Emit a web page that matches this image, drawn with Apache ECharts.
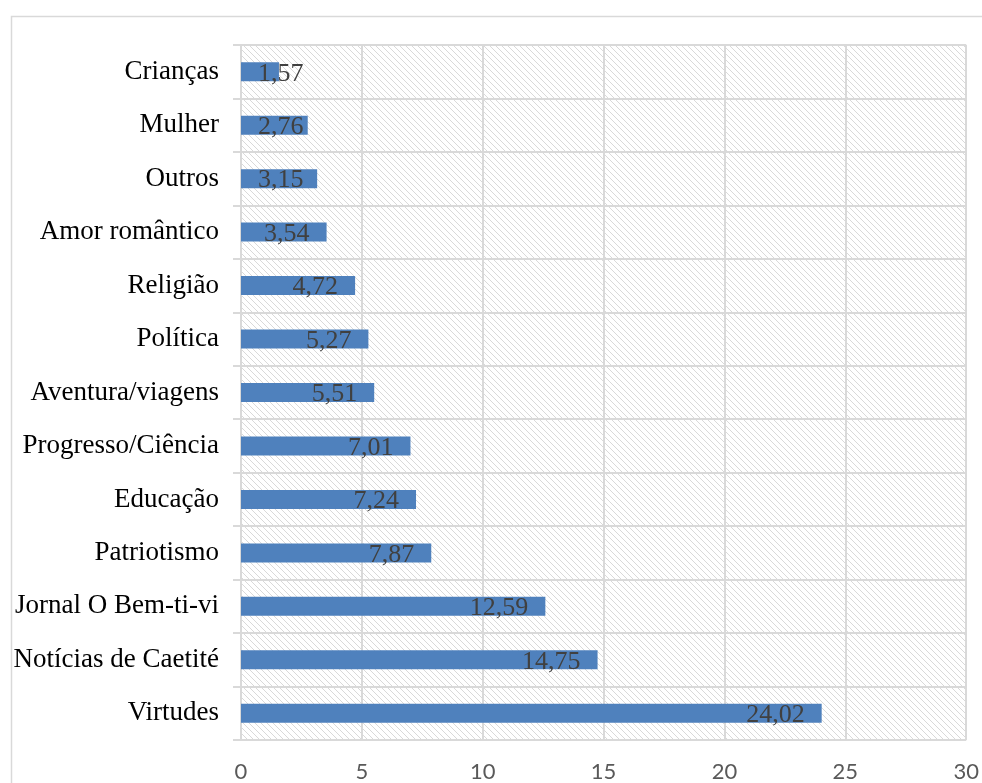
<!DOCTYPE html>
<html>
<head>
<meta charset="utf-8">
<script src="https://cdn.jsdelivr.net/npm/echarts@6/dist/echarts.min.js"></script>
<style>html,body{margin:0;padding:0;background:#fff;}#c{width:982px;height:783px;}</style>
</head>
<body>
<div id="c"></div>
<script>
// Data (top to bottom as shown)
const categories = ['Crianças','Mulher','Outros','Amor romântico','Religião','Política','Aventura/viagens','Progresso/Ciência','Educação','Patriotismo','Jornal O Bem-ti-vi','Notícias de Caetité','Virtudes'];
const values = [1.57,2.76,3.15,3.54,4.72,5.27,5.51,7.01,7.24,7.87,12.59,14.75,24.02];
const xTicks = [0,5,10,15,20,25,30];

// hatch pattern
const pc = document.createElement('canvas');
pc.width = 6; pc.height = 6;
const g = pc.getContext('2d');
g.fillStyle = '#ffffff'; g.fillRect(0,0,6,6);
g.strokeStyle = '#d9d9d9'; g.lineWidth = 1;
g.beginPath();
g.moveTo(0,0); g.lineTo(6,6);
g.moveTo(-3,3); g.lineTo(3,9);
g.moveTo(3,-3); g.lineTo(9,3);
g.stroke();

const cats = categories.slice().reverse();
const vals = values.slice().reverse();

const chart = echarts.init(document.getElementById('c'), null, {renderer:'canvas'});
chart.setOption({
  animation: false,
  graphic: [{
    type: 'rect', left: 9, top: 14, shape: {x:0, y:0, width: 1000, height: 1000},
    style: {fill: 'none', stroke: '#d9d9d9', lineWidth: 1.5}, z: -10
  }],
  grid: {
    left: 241, right: 13, top: 45, bottom: 42,
    show: true, borderWidth: 0,
    backgroundColor: {image: pc, repeat: 'repeat'}
  },
  xAxis: {
    type: 'value', min: xTicks[0], max: xTicks[xTicks.length-1], interval: 5,
    axisLine: {show: false}, axisTick: {show: false},
    splitLine: {show: true, lineStyle: {color: '#d9d9d9', width: 2}},
    axisLabel: {color: '#595959', fontFamily: 'Lato, "Open Sans", sans-serif', fontSize: 22, margin: 21}
  },
  yAxis: {
    type: 'category', data: cats,
    axisLine: {show: true, lineStyle: {color: '#d9d9d9', width: 2}},
    axisTick: {show: true, length: 8, lineStyle: {color: '#d9d9d9', width: 2}},
    splitLine: {show: true, lineStyle: {color: '#d9d9d9', width: 2}},
    axisLabel: {color: '#000', fontFamily: '"Liberation Serif", "Times New Roman", serif', fontSize: 27, margin: 22, padding: [5,0,0,0]}
  },
  series: [{
    type: 'bar',
    data: vals.map(v => v < 3.2 ? {value: v, label: {position: 'insideLeft', distance: 17}} : v),
    barWidth: 19,
    itemStyle: {color: '#4f81bd'},
    label: {
      show: true, position: 'insideRight', distance: 17, offset: [0, 2],
      color: '#404040', fontFamily: '"Liberation Serif", "Times New Roman", serif', fontSize: 26,
      formatter: p => p.value.toFixed(2).replace('.', ',')
    }
  }]
});
</script>
</body>
</html>
